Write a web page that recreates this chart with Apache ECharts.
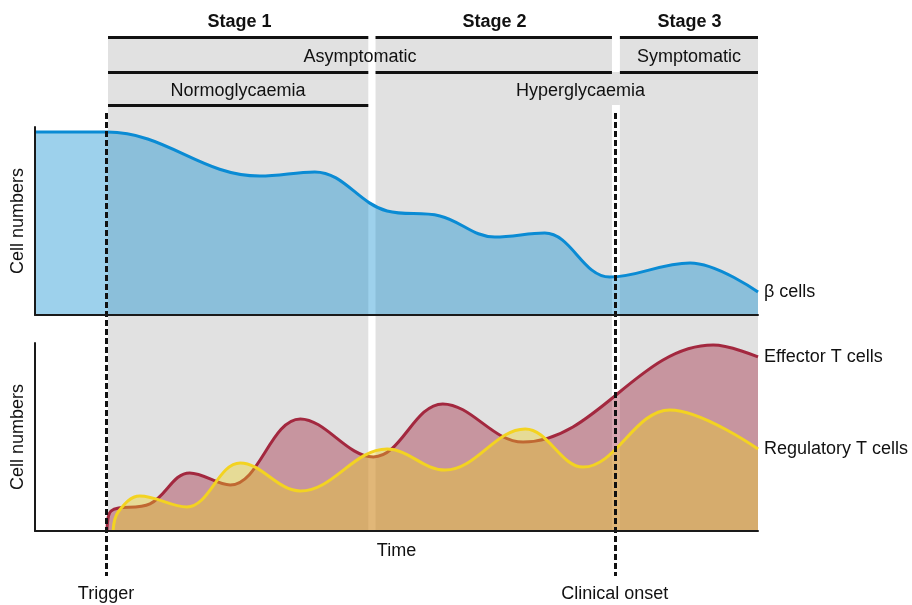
<!DOCTYPE html>
<html>
<head>
<meta charset="utf-8">
<script src="https://cdn.jsdelivr.net/npm/echarts@6/dist/echarts.min.js"></script>
<style>html,body{margin:0;padding:0;background:#fff}#c{width:912px;height:605px}</style>
</head>
<body>
<div id="c"></div>
<script>
// ---- data (time 0-100, cell numbers 0-100, arbitrary units) ----
const betaTime = [0, 10, 31.1, 38.7, 48.7, 56.0, 63.6, 70.5, 79.5, 90.6, 100];
const betaCells = [97.3, 97.3, 73.9, 76.1, 55.3, 52.7, 41.5, 43.6, 20.2, 27.7, 12.2];

const effTime = [9.96, 10.5, 15.9, 21.4, 27.0, 36.7, 46.8, 56.4, 67.5, 93.8, 100];
const effectorT = [0, 10.6, 14.4, 30.9, 24.5, 59.6, 39.4, 67.6, 47.3, 98.9, 92.6];

const regTime = [10.8, 11.5, 14.5, 21.0, 28.4, 36.7, 48.7, 56.7, 67.8, 75.8, 87.8, 100];
const regulatoryT = [0, 10.1, 18.6, 12.8, 36.2, 21.3, 43.6, 32.4, 54.3, 34.0, 64.4, 43.6];

const stageLabels = ['Stage 1', 'Stage 2', 'Stage 3'];
const symptomLabels = ['Asymptomatic', 'Symptomatic'];
const glycaemiaLabels = ['Normoglycaemia', 'Hyperglycaemia'];
const eventLabels = ['Trigger', 'Clinical onset'];
const eventTimes = [9.82, 80.2];
const seriesNames = ['β cells', 'Effector T cells', 'Regulatory T cells'];

const zip = (a, b) => a.map((t, i) => [t, b[i]]);

// ---- layout helpers (annotation grid uses page-height units on its y axis) ----
const GRAY = '#e1e1e1';
const FONT = '"Liberation Sans", Arial, sans-serif';
const S1 = 10.1, S1e = 46.1, S2 = 47.1, S2e = 79.8, S3 = 80.9, END = 100;
const Y0 = 36, Y1 = 72, Y2 = 105, YB = 530;
const SMOOTH = 0.38;

const grayAreas = [
  [{ coord: [S1, Y0] }, { coord: [S1e, YB] }],
  [{ coord: [S2, Y0] }, { coord: [S2e, YB] }],
  [{ coord: [S3, Y0] }, { coord: [END, YB] }],
  [{ coord: [S2e, Y1] }, { coord: [S3, Y2] }]
];
const hLine = (x0, x1, y) => [{ coord: [x0, y] }, { coord: [x1, y] }];
const headerLines = [
  hLine(S1, S1e, 37.5), hLine(S2, S2e, 37.5), hLine(S3, END, 37.5),
  hLine(S1, S1e, 72.5), hLine(S2, S2e, 72.5), hLine(S3, END, 72.5),
  hLine(S1, S1e, 105.5), hLine(S2, 104.0, 105.5)
];
const dashLines = eventTimes.map((t, i) => [
  { coord: [t, 113] },
  { coord: [t, 576], label: { show: true, position: 'end', formatter: eventLabels[i], distance: 9, fontSize: 18, color: '#111', fontFamily: FONT } }
]);

const txt = (text, x, y, bold, align) => ({
  type: 'text', x, y, z: 50,
  style: { text, font: (bold ? 'bold ' : '') + '18px ' + FONT, fill: '#111', align: align || 'center', verticalAlign: 'middle', textAlign: align || 'center', textVerticalAlign: 'middle' }
});

const axisCommon = {
  type: 'value', min: 0, max: 100, z: 10,
  axisLine: { show: true, onZero: false, lineStyle: { color: '#1a1a1a', width: 2 } },
  axisTick: { show: false }, axisLabel: { show: false }, splitLine: { show: false }
};

const chart = echarts.init(document.getElementById('c'), null, { renderer: 'canvas' });
chart.setOption({
  animation: false,
  backgroundColor: '#fff',
  grid: [
    { left: 35, right: 154, top: 0, height: 605 },
    { left: 35, right: 154, top: 127, height: 188 },
    { left: 35, right: 154, top: 343, height: 188 }
  ],
  xAxis: [
    { type: 'value', gridIndex: 0, min: 0, max: 100, show: false },
    Object.assign({}, axisCommon, { gridIndex: 1 }),
    Object.assign({}, axisCommon, { gridIndex: 2, name: 'Time', nameLocation: 'middle', nameGap: 11, nameTextStyle: { fontSize: 18, color: '#111', fontFamily: FONT } })
  ],
  yAxis: [
    { type: 'value', gridIndex: 0, min: 0, max: 605, inverse: true, show: false },
    Object.assign({}, axisCommon, { gridIndex: 1, name: 'Cell numbers', nameLocation: 'middle', nameRotate: 90, nameGap: 8, nameTextStyle: { fontSize: 18, color: '#111', fontFamily: FONT } }),
    Object.assign({}, axisCommon, { gridIndex: 2, name: 'Cell numbers', nameLocation: 'middle', nameRotate: 90, nameGap: 8, nameTextStyle: { fontSize: 18, color: '#111', fontFamily: FONT } })
  ],
  graphic: [
    txt(stageLabels[0], 239.5, 22, true), txt(stageLabels[1], 494.5, 22, true), txt(stageLabels[2], 689.5, 22, true),
    txt(symptomLabels[0], 360, 57), txt(symptomLabels[1], 689, 57),
    txt(glycaemiaLabels[0], 238, 91), txt(glycaemiaLabels[1], 580.5, 91)
  ],
  series: [
    {
      type: 'line', xAxisIndex: 0, yAxisIndex: 0, data: [[0, null]], z: 1, clip: false, silent: true,
      showSymbol: false,
      markArea: { silent: true, itemStyle: { color: GRAY }, data: grayAreas },
      markLine: { silent: true, symbol: 'none', label: { show: false }, lineStyle: { color: '#111', width: 3, type: 'solid' }, data: headerLines }
    },
    {
      name: seriesNames[0], type: 'line', xAxisIndex: 1, yAxisIndex: 1, z: 3,
      data: zip(betaTime, betaCells), smooth: SMOOTH, showSymbol: false,
      lineStyle: { color: '#0a8bd4', width: 3 },
      areaStyle: { color: 'rgb(10,140,207)', opacity: 0.4 },
      endLabel: { show: true, formatter: seriesNames[0], fontSize: 18, color: '#111', fontFamily: FONT, distance: 6 }
    },
    {
      name: seriesNames[1], type: 'line', xAxisIndex: 2, yAxisIndex: 2, z: 3,
      data: zip(effTime, effectorT), smooth: SMOOTH, showSymbol: false,
      lineStyle: { color: '#a3283f', width: 3 },
      areaStyle: { color: 'rgb(160,35,60)', opacity: 0.4 },
      endLabel: { show: true, formatter: seriesNames[1], fontSize: 18, color: '#111', fontFamily: FONT, distance: 6 }
    },
    {
      name: seriesNames[2], type: 'line', xAxisIndex: 2, yAxisIndex: 2, z: 4,
      data: zip(regTime, regulatoryT), smooth: SMOOTH, showSymbol: false,
      lineStyle: { color: '#f3d321', width: 3 },
      areaStyle: { color: 'rgb(240,210,30)', opacity: 0.38 },
      endLabel: { show: true, formatter: seriesNames[2], fontSize: 18, color: '#111', fontFamily: FONT, distance: 6 }
    },
    {
      type: 'line', xAxisIndex: 0, yAxisIndex: 0, data: [[0, null]], z: 20, clip: false, silent: true,
      showSymbol: false,
      markLine: { silent: true, symbol: 'none', lineStyle: { color: '#111', width: 3, type: [6, 3] }, data: dashLines }
    }
  ]
});
</script>
</body>
</html>
